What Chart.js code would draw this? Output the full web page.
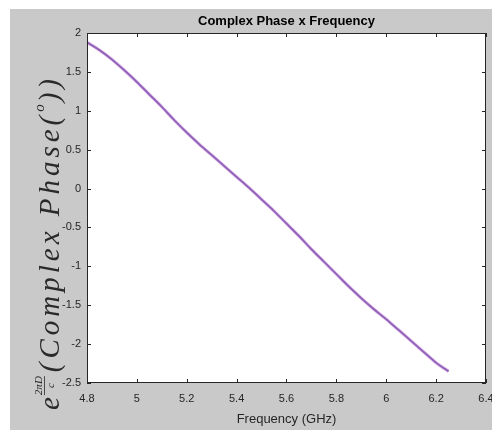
<!DOCTYPE html>
<html><head><meta charset="utf-8">
<script src="https://cdn.jsdelivr.net/npm/chart.js@4.4.1/dist/chart.umd.min.js"></script>
<style>html,body{margin:0;padding:0;background:#fff}#wrap{width:492px;height:430px}</style>
</head><body><div id="wrap"><canvas id="c" width="492" height="430"></canvas></div>
<script>
const frequency = [4.80,4.85,4.90,4.95,5.00,5.05,5.10,5.15,5.20,5.25,5.30,5.35,5.40,5.45,5.50,5.55,5.60,5.65,5.70,5.75,5.80,5.85,5.90,5.95,6.00,6.05,6.10,6.15,6.20,6.25];
const phase = [1.88,1.78,1.66,1.52,1.37,1.21,1.05,0.88,0.72,0.57,0.43,0.29,0.15,0.01,-0.14,-0.29,-0.45,-0.61,-0.78,-0.94,-1.10,-1.26,-1.41,-1.55,-1.68,-1.82,-1.96,-2.10,-2.24,-2.35];
const xTicks = [4.8,5.0,5.2,5.4,5.6,5.8,6.0,6.2,6.4];
const xTickLabels = ["4.8","5","5.2","5.4","5.6","5.8","6","6.2","6.4"];
const yTicks = [2,1.5,1,0.5,0,-0.5,-1,-1.5,-2,-2.5];
const yTickLabels = ["2","1.5","1","0.5","0","-0.5","-1","-1.5","-2","-2.5"];
const titleText = "Complex Phase x Frequency";
const xTitle = "Frequency (GHz)";

const ptsA = frequency.map((f,i)=>({x:f,y:phase[i]}));
const ptsB = frequency.map((f,i)=>({x:f,y:phase[i]}));

function spacedText(c, s, x, y, extra){
  for (const ch of s){ c.fillText(ch, x, y); x += c.measureText(ch).width + extra; }
  return x;
}

const deco = {
  id:'deco',
  beforeDraw(chart){
    const c = chart.ctx;
    c.save();
    c.fillStyle='#ffffff'; c.fillRect(0,0,chart.width,chart.height);
    c.fillStyle='#c9c9c9'; c.fillRect(10,9,chart.width-10,chart.height-9);
    const a = chart.chartArea;
    c.fillStyle='#ffffff'; c.fillRect(a.left,a.top,a.right-a.left,a.bottom-a.top);
    c.restore();
  },
  afterDraw(chart){
    const c = chart.ctx, a = chart.chartArea;
    const xs = chart.scales.x, ys = chart.scales.y;
    c.save();
    c.strokeStyle='#262626'; c.lineWidth=1;
    c.strokeRect(Math.round(a.left)+0.5, Math.round(a.top)+0.5, Math.round(a.right-a.left)-1, Math.round(a.bottom-a.top)-1);
    c.beginPath();
    xTicks.forEach(v=>{
      const px = Math.round(xs.getPixelForValue(v))+0.5;
      c.moveTo(px,a.bottom); c.lineTo(px,a.bottom-4);
      c.moveTo(px,a.top); c.lineTo(px,a.top+4);
    });
    yTicks.forEach(v=>{
      const py = Math.round(ys.getPixelForValue(v))+0.5;
      c.moveTo(a.left,py); c.lineTo(a.left+4,py);
      c.moveTo(a.right,py); c.lineTo(a.right-4,py);
    });
    c.stroke();
    c.fillStyle='#262626';
    c.font='11px "Liberation Sans", Arial, sans-serif';
    c.textAlign='center'; c.textBaseline='top';
    xTicks.forEach((v,i)=>{
      c.fillText(xTickLabels[i], xs.getPixelForValue(v), a.bottom+10);
    });
    c.textAlign='right'; c.textBaseline='middle';
    yTicks.forEach((v,i)=>{
      c.fillText(yTickLabels[i], a.left-6, ys.getPixelForValue(v));
    });
    c.font='13px "Liberation Sans", Arial, sans-serif';
    c.textAlign='center'; c.textBaseline='middle';
    c.fillText(xTitle, (a.left+a.right)/2, a.bottom+36);
    c.fillStyle='#000';
    c.font='bold 13px "Liberation Sans", Arial, sans-serif';
    c.fillText(titleText, (a.left+a.right)/2, a.top-12);
    // y title (math)
    const big = 'italic 29px "Liberation Serif", "DejaVu Serif", serif';
    const small = 'italic 11px "Liberation Serif", "DejaVu Serif", serif';
    const sup = 'italic 15px "Liberation Serif", "DejaVu Serif", serif';
    const num='2\u03C0D', den='c', t1='(Complex Phase(', t3='))';
    c.font=big; const we=c.measureText('e').width, w1=c.measureText(t1).width, w3=c.measureText(t3).width;
    c.font=small; const nw=c.measureText(num).width, dw=c.measureText(den).width;
    c.font=sup; const ow=c.measureText('o').width;
    const nChars = t1.length + t3.length;
    const base = we+2+nw+4+w1+ow+2+w3;
    const target = 335;
    const extra = Math.max(0,(target-base)/nChars);
    c.translate(53, 410);
    c.rotate(-Math.PI/2);
    c.fillStyle='#2a2a2a';
    c.textAlign='left'; c.textBaseline='alphabetic';
    let x = 0;
    c.font=big; c.fillText('e', x, 6); x += we+2;
    c.font=small;
    c.fillText(num, x, -11);
    c.fillText(den, x+nw/2-dw/2, 1);
    c.fillRect(x, -9, nw, 0.8);
    x += nw+4;
    c.font=big; x = spacedText(c, t1, x, 6, extra);
    c.font=sup; c.fillText('o', x, -9); x += ow+2;
    c.font=big; spacedText(c, t3, x, 6, extra);
    c.restore();
  }
};

new Chart(document.getElementById('c'), {
  type:'line',
  data:{datasets:[
    {data:ptsA, borderColor:'rgba(200,110,215,0.35)', borderWidth:3.5, pointRadius:0, cubicInterpolationMode:'monotone', fill:false},
    {data:ptsB, borderColor:'#735eaa', borderWidth:2, pointRadius:0, cubicInterpolationMode:'monotone', fill:false}
  ]},
  options:{
    responsive:false, animation:false, devicePixelRatio:1,
    layout:{padding:{left:87,right:6,top:33,bottom:47}},
    plugins:{legend:{display:false},title:{display:false},tooltip:{enabled:false}},
    scales:{
      x:{type:'linear',min:4.8,max:6.4,display:false},
      y:{type:'linear',min:-2.5,max:2,display:false}
    }
  },
  plugins:[deco]
});
</script></body></html>
